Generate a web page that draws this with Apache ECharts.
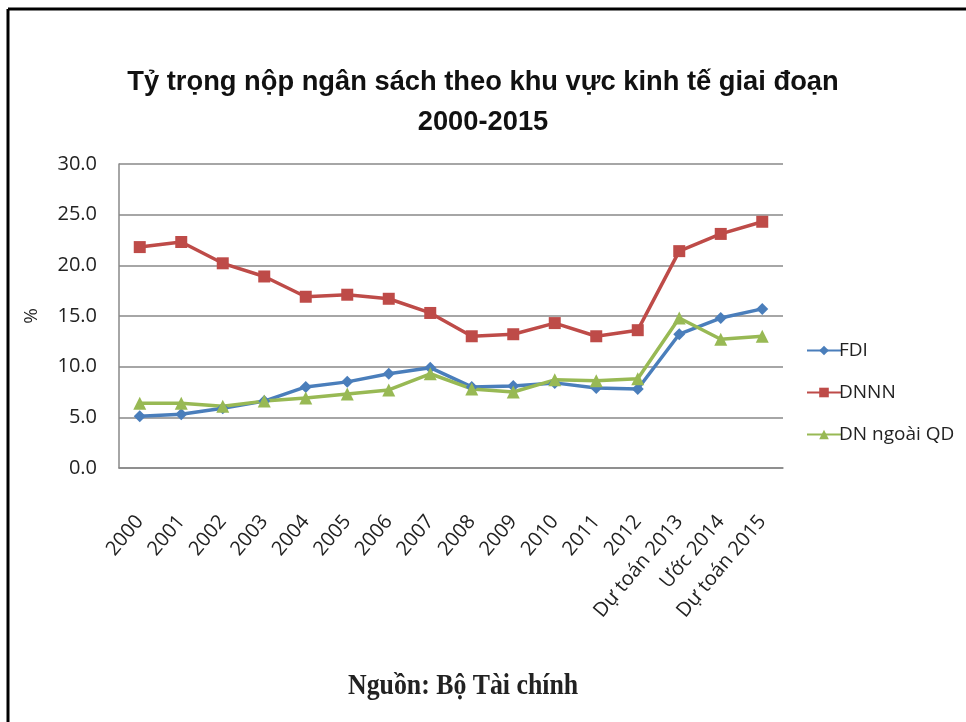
<!DOCTYPE html>
<html><head><meta charset="utf-8">
<script src="https://cdn.jsdelivr.net/npm/echarts@6/dist/echarts.min.js"></script>
<style>html,body{margin:0;padding:0;background:#fff}#c{width:966px;height:722px}</style>
</head><body><div id="c"></div>
<script>
const categories = ['2000','2001','2002','2003','2004','2005','2006','2007','2008','2009','2010','2011','2012','Dự toán 2013','Ước 2014','Dự toán 2015'];
const fdi = [5.1, 5.3, 5.9, 6.6, 8.0, 8.5, 9.3, 9.9, 8.0, 8.1, 8.4, 7.9, 7.8, 13.2, 14.8, 15.7];
const dnnn = [21.8, 22.3, 20.2, 18.9, 16.9, 17.1, 16.7, 15.3, 13.0, 13.2, 14.3, 13.0, 13.6, 21.4, 23.1, 24.3];
const dnNgoaiQD = [6.4, 6.4, 6.1, 6.6, 6.9, 7.3, 7.7, 9.3, 7.8, 7.5, 8.7, 8.6, 8.8, 14.8, 12.7, 13.0];
const seriesNames = ['FDI', 'DNNN', 'DN ngoài QD'];
const yTicks = { min: 0, max: 30, interval: 5 };

const chart = echarts.init(document.getElementById('c'), null, { renderer: 'canvas' });
const lblFont = '"Open Sans", "Noto Sans", sans-serif';
chart.setOption({
  animation: false,
  backgroundColor: '#fff',
  title: {
    text: 'Tỷ trọng nộp ngân sách theo khu vực kinh tế giai đoạn\n2000-2015',
    left: 'center', top: 57,
    textStyle: { fontFamily: 'Liberation Sans', fontWeight: 'bold', fontSize: 27.3, color: '#111', lineHeight: 40 }
  },
  legend: {
    orient: 'vertical', left: 801, top: 336, itemGap: 23, itemWidth: 34, itemHeight: 12,
    textStyle: { fontFamily: lblFont, fontSize: 19, color: '#222', padding: [0,0,0,-7] },
    data: seriesNames
  },
  grid: { left: 119, right: 183, top: 164, bottom: 254, containLabel: false },
  xAxis: {
    type: 'category', data: categories, boundaryGap: true,
    axisLine: { lineStyle: { color: '#888', width: 1.5 } },
    axisTick: { show: false },
    axisLabel: { rotate: 50, interval: 0, fontFamily: lblFont, fontSize: 20, color: '#222', margin: 50 }
  },
  yAxis: {
    type: 'value', min: yTicks.min, max: yTicks.max, interval: yTicks.interval,
    name: '%', nameLocation: 'middle', nameGap: 78, nameRotate: 90,
    nameTextStyle: { fontFamily: lblFont, fontSize: 19, color: '#222' },
    axisLine: { show: true, lineStyle: { color: '#888', width: 1.5 } },
    axisTick: { show: false },
    splitLine: { lineStyle: { color: '#888', width: 1.5 } },
    axisLabel: { fontFamily: lblFont, fontSize: 20, color: '#222', margin: 22, formatter: v => v.toFixed(1) }
  },
  series: [
    { name: seriesNames[0], type: 'line', data: fdi, symbol: 'diamond', symbolSize: 12,
      lineStyle: { color: '#4A7EBB', width: 3.5 }, itemStyle: { color: '#4A7EBB' } },
    { name: seriesNames[1], type: 'line', data: dnnn, symbol: 'rect', symbolSize: 12,
      lineStyle: { color: '#BE4B48', width: 3.5 }, itemStyle: { color: '#BE4B48' } },
    { name: seriesNames[2], type: 'line', data: dnNgoaiQD, symbol: 'triangle', symbolSize: 13,
      lineStyle: { color: '#98B954', width: 3.5 }, itemStyle: { color: '#98B954' } }
  ],
  graphic: [
    { type: 'line', shape: { x1: 8, y1: 9, x2: 966, y2: 9 }, style: { stroke: '#000', lineWidth: 3 } },
    { type: 'line', shape: { x1: 8, y1: 9, x2: 8, y2: 722 }, style: { stroke: '#000', lineWidth: 3 } },
    { type: 'text', x: 348, y: 671, scaleX: 0.86, originX: 0, originY: 0,
      style: { text: 'Nguồn: Bộ Tài chính', font: 'bold 30px "Liberation Serif", serif', fill: '#222' } }
  ]
});
</script></body></html>
